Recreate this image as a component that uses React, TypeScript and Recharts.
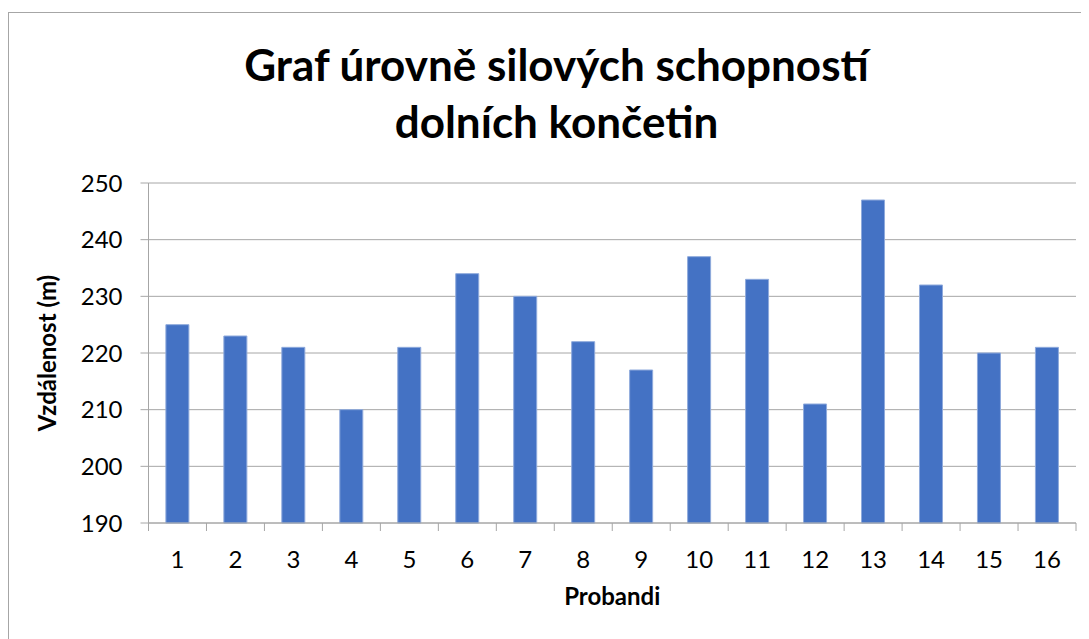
import React from 'react';
import { BarChart, Bar, XAxis, YAxis, CartesianGrid, Label } from 'recharts';

// hodnoty
const categories = ['1', '2', '3', '4', '5', '6', '7', '8', '9', '10', '11', '12', '13', '14', '15', '16'];
const values = [225, 223, 221, 210, 221, 234, 230, 222, 217, 237, 233, 211, 247, 232, 220, 221];
const yTicks = [190, 200, 210, 220, 230, 240, 250];

const data = categories.map((name, i) => ({ name, value: values[i] }));

const FONT = 'Lato, "Open Sans", sans-serif';
const GRAY = '#a6a6a6';
const TICK_SIZE = 8;
const TICK_MARGIN = 20;

// popisek osy x + značky na hranicích kategorií (jako v Excelu)
const XTick = (props: any) => {
  const { x, y, payload, index } = props;
  const half = payload?.offset ?? 29;
  const axisY = y - TICK_SIZE - TICK_MARGIN;
  return (
    <g>
      {index === 0 && (
        <line x1={x - half} x2={x - half} y1={axisY} y2={axisY + TICK_SIZE} stroke={GRAY} />
      )}
      <line x1={x + half} x2={x + half} y1={axisY} y2={axisY + TICK_SIZE} stroke={GRAY} />
      <text x={x} y={y} dy="0.71em" textAnchor="middle" fill="#000" fontSize={24} fontFamily={FONT}>
        {payload.value}
      </text>
    </g>
  );
};

const YAxisTitle = (props: any) => {
  const vb = props.viewBox || {};
  const cy = (vb.y ?? 170) + (vb.height ?? 340) / 2;
  return (
    <text
      x={47}
      y={cy}
      transform={`rotate(-90, 47, ${cy})`}
      textAnchor="middle"
      fontSize={24}
      fontWeight={700}
      fontFamily={FONT}
      fill="#000"
    >
      Vzdálenost (m)
    </text>
  );
};

export default function App() {
  return (
    <div
      style={{
        position: 'relative',
        marginTop: 4,
        width: 1095,
        height: 640,
        border: `1px solid ${GRAY}`,
        background: '#fff',
      }}
    >
      <div
        style={{
          position: 'absolute',
          left: 0,
          top: 23,
          width: 1095,
          textAlign: 'center',
          fontFamily: FONT,
          fontWeight: 700,
          fontSize: 44,
          lineHeight: '57px',
          color: '#000',
        }}
      >
        Graf úrovně silových schopností
        <br />
        dolních končetin
      </div>
      <div style={{ position: 'absolute', left: 0, top: 0 }}>
        <BarChart
          width={1081}
          height={627}
          data={data}
          margin={{ top: 170, right: 14, bottom: 87, left: 79.5 }}
          barCategoryGap="30%"
        >
          <CartesianGrid vertical={false} stroke={GRAY} />
          <XAxis
            dataKey="name"
            height={30}
            stroke={GRAY}
            tickLine={false}
            tickSize={TICK_SIZE}
            tickMargin={TICK_MARGIN}
            tick={<XTick />}
            interval={0}
          >
            <Label
              value="Probandi"
              position="bottom"
              offset={35}
              fill="#000"
              fontSize={24}
              fontWeight={700}
              fontFamily={FONT}
            />
          </XAxis>
          <YAxis
            width={60}
            domain={[190, 250]}
            ticks={yTicks}
            interval={0}
            stroke={GRAY}
            tickSize={TICK_SIZE}
            tickMargin={18}
            tick={{ fill: '#000', fontSize: 24, fontFamily: FONT }}
          >
            <Label content={<YAxisTitle />} />
          </YAxis>
          <Bar
            dataKey="value"
            fill="#4472c4"
            stroke="#8faadc"
            strokeWidth={1}
            isAnimationActive={false}
          />
        </BarChart>
      </div>
    </div>
  );
}
